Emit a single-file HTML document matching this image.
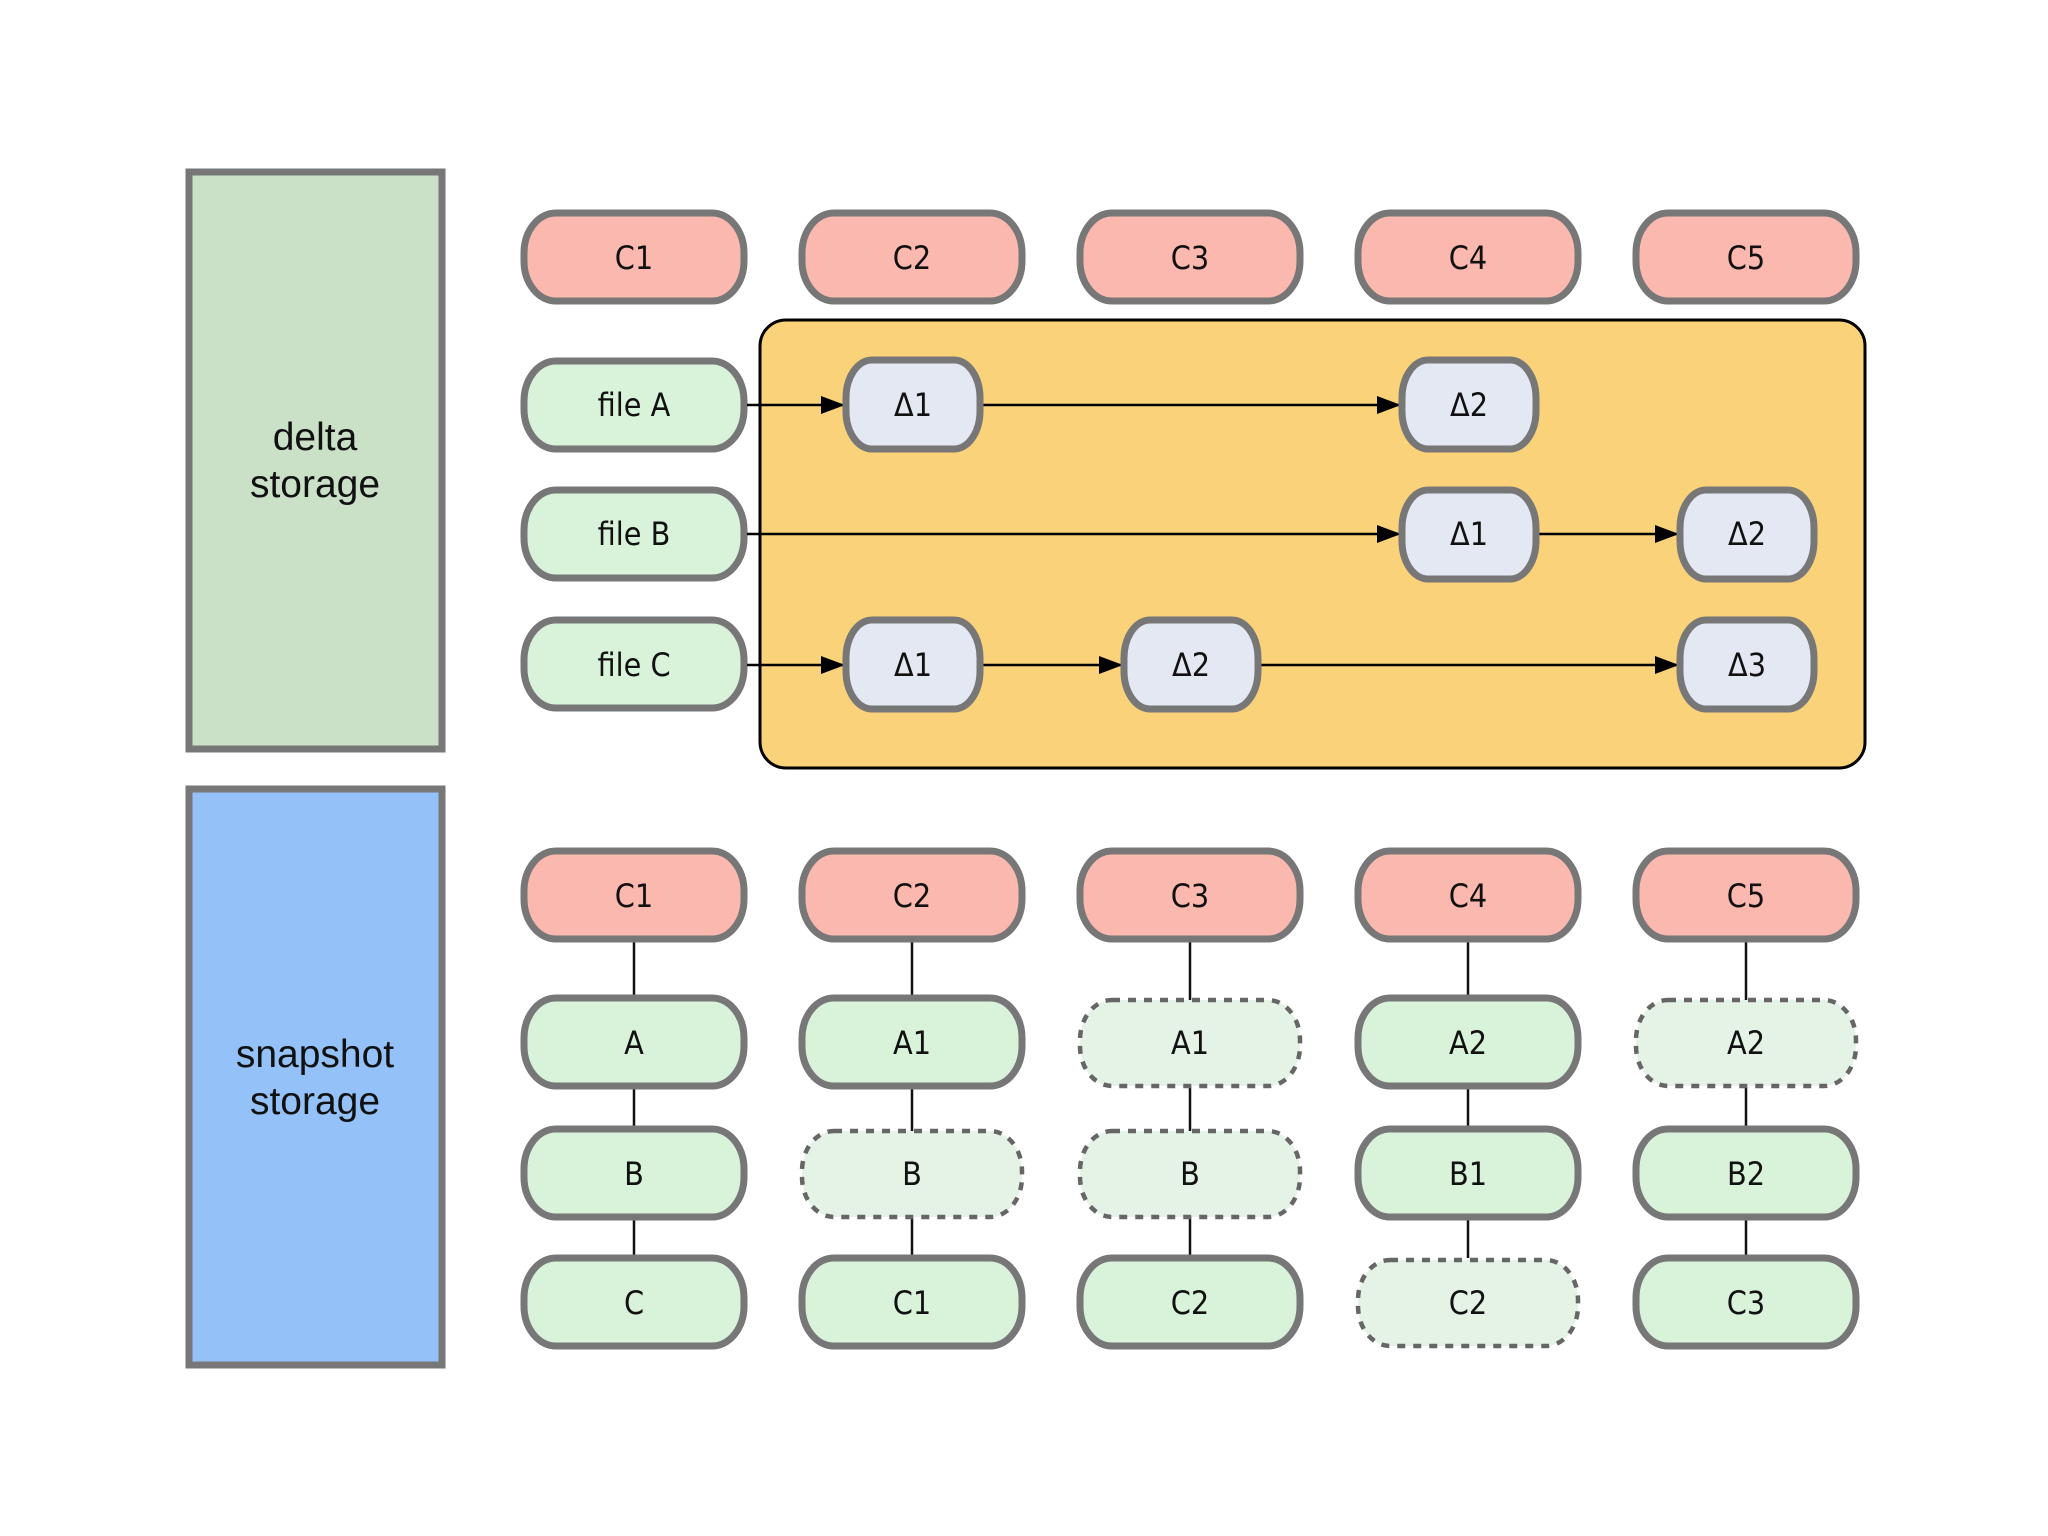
<!DOCTYPE html>
<html><head><meta charset="utf-8"><style>html,body{margin:0;padding:0;background:#fff}svg{display:block}</style></head>
<body>
<svg width="2048" height="1536" viewBox="0 0 2048 1536" xmlns="http://www.w3.org/2000/svg" font-family="'DejaVu Sans Condensed','Liberation Sans',sans-serif">
<defs>
<marker id="a2" markerWidth="24" markerHeight="18" refX="24" refY="9" orient="auto" markerUnits="userSpaceOnUse"><path d="M0,0 L24,9 L0,18 z" fill="#000"/></marker>
</defs>
<rect width="2048" height="1536" fill="#fff"/>
<rect x="189" y="172" width="253" height="577" fill="#cae1c8" stroke="#777" stroke-width="7"/>
<text x="315" y="450" font-family="'Liberation Sans',sans-serif" font-size="39" text-anchor="middle" fill="#111">delta</text>
<text x="315" y="497" font-family="'Liberation Sans',sans-serif" font-size="39" text-anchor="middle" fill="#111">storage</text>
<rect x="189" y="789" width="253" height="576" fill="#94c2f8" stroke="#777" stroke-width="7"/>
<text x="315" y="1067" font-family="'Liberation Sans',sans-serif" font-size="39" text-anchor="middle" fill="#111">snapshot</text>
<text x="315" y="1114" font-family="'Liberation Sans',sans-serif" font-size="39" text-anchor="middle" fill="#111">storage</text>
<rect x="760" y="320" width="1105" height="448" rx="26" fill="#fad27a" stroke="#000" stroke-width="3"/>
<g font-size="32" text-anchor="middle" fill="#111" stroke-width="7" stroke="#777">
<g>
<rect x="524" y="213" width="220" height="88" rx="32" ry="40" fill="#fbb8ae"/>
<rect x="802" y="213" width="220" height="88" rx="32" ry="40" fill="#fbb8ae"/>
<rect x="1080" y="213" width="220" height="88" rx="32" ry="40" fill="#fbb8ae"/>
<rect x="1358" y="213" width="220" height="88" rx="32" ry="40" fill="#fbb8ae"/>
<rect x="1636" y="213" width="220" height="88" rx="32" ry="40" fill="#fbb8ae"/>
<rect x="524" y="361" width="220" height="88" rx="32" ry="40" fill="#d9f2da"/>
<rect x="524" y="490" width="220" height="88" rx="32" ry="40" fill="#d9f2da"/>
<rect x="524" y="620" width="220" height="88" rx="32" ry="40" fill="#d9f2da"/>
</g>
<g stroke="#000" stroke-width="2.5" fill="none">
<line x1="747" y1="405" x2="845" y2="405" marker-end="url(#a2)"/>
<line x1="980" y1="405" x2="1401" y2="405" marker-end="url(#a2)"/>
<line x1="747" y1="534" x2="1401" y2="534" marker-end="url(#a2)"/>
<line x1="1536" y1="534" x2="1679" y2="534" marker-end="url(#a2)"/>
<line x1="747" y1="665" x2="845" y2="665" marker-end="url(#a2)"/>
<line x1="980" y1="665" x2="1123" y2="665" marker-end="url(#a2)"/>
<line x1="1258" y1="665" x2="1679" y2="665" marker-end="url(#a2)"/>
</g>
<g fill="#e3e8f3">
<rect x="846" y="360" width="134" height="89" rx="26" ry="38"/>
<rect x="1402" y="360" width="134" height="89" rx="26" ry="38"/>
<rect x="1402" y="490" width="134" height="89" rx="26" ry="38"/>
<rect x="1680" y="490" width="134" height="89" rx="26" ry="38"/>
<rect x="846" y="620" width="134" height="89" rx="26" ry="38"/>
<rect x="1124" y="620" width="134" height="89" rx="26" ry="38"/>
<rect x="1680" y="620" width="134" height="89" rx="26" ry="38"/>
</g>
<g stroke="#111" stroke-width="2.5">
<line x1="634" y1="940" x2="634" y2="1258"/>
<line x1="912" y1="940" x2="912" y2="1258"/>
<line x1="1190" y1="940" x2="1190" y2="1258"/>
<line x1="1468" y1="940" x2="1468" y2="1258"/>
<line x1="1746" y1="940" x2="1746" y2="1258"/>
</g>
<g>
<rect x="524" y="851" width="220" height="88" rx="32" ry="40" fill="#fbb8ae"/>
<rect x="802" y="851" width="220" height="88" rx="32" ry="40" fill="#fbb8ae"/>
<rect x="1080" y="851" width="220" height="88" rx="32" ry="40" fill="#fbb8ae"/>
<rect x="1358" y="851" width="220" height="88" rx="32" ry="40" fill="#fbb8ae"/>
<rect x="1636" y="851" width="220" height="88" rx="32" ry="40" fill="#fbb8ae"/>
<rect x="524" y="998" width="220" height="88" rx="32" ry="40" fill="#d9f2da"/>
<rect x="802" y="998" width="220" height="88" rx="32" ry="40" fill="#d9f2da"/>
<rect x="1358" y="998" width="220" height="88" rx="32" ry="40" fill="#d9f2da"/>
<rect x="524" y="1129" width="220" height="88" rx="32" ry="40" fill="#d9f2da"/>
<rect x="1358" y="1129" width="220" height="88" rx="32" ry="40" fill="#d9f2da"/>
<rect x="1636" y="1129" width="220" height="88" rx="32" ry="40" fill="#d9f2da"/>
<rect x="524" y="1258" width="220" height="88" rx="32" ry="40" fill="#d9f2da"/>
<rect x="802" y="1258" width="220" height="88" rx="32" ry="40" fill="#d9f2da"/>
<rect x="1080" y="1258" width="220" height="88" rx="32" ry="40" fill="#d9f2da"/>
<rect x="1636" y="1258" width="220" height="88" rx="32" ry="40" fill="#d9f2da"/>
</g>
<g fill="#e4f3e6" stroke-width="4.5" stroke-dasharray="8 8" stroke="#666">
<rect x="1080" y="1000" width="220" height="86" rx="32" ry="40"/>
<rect x="1636" y="1000" width="220" height="86" rx="32" ry="40"/>
<rect x="802" y="1131" width="220" height="86" rx="32" ry="40"/>
<rect x="1080" y="1131" width="220" height="86" rx="32" ry="40"/>
<rect x="1358" y="1260" width="220" height="86" rx="32" ry="40"/>
</g>
<g stroke="none" fill="#111">
<text x="634" y="269">C1</text><text x="912" y="269">C2</text><text x="1190" y="269">C3</text><text x="1468" y="269">C4</text><text x="1746" y="269">C5</text>
<text x="634" y="416">file A</text><text x="634" y="545">file B</text><text x="634" y="676">file C</text>
<text x="913" y="416">Δ1</text><text x="1469" y="416">Δ2</text>
<text x="1469" y="545">Δ1</text><text x="1747" y="545">Δ2</text>
<text x="913" y="676">Δ1</text><text x="1191" y="676">Δ2</text><text x="1747" y="676">Δ3</text>
<text x="634" y="907">C1</text><text x="912" y="907">C2</text><text x="1190" y="907">C3</text><text x="1468" y="907">C4</text><text x="1746" y="907">C5</text>
<text x="634" y="1054">A</text><text x="912" y="1054">A1</text><text x="1190" y="1054">A1</text><text x="1468" y="1054">A2</text><text x="1746" y="1054">A2</text>
<text x="634" y="1185">B</text><text x="912" y="1185">B</text><text x="1190" y="1185">B</text><text x="1468" y="1185">B1</text><text x="1746" y="1185">B2</text>
<text x="634" y="1314">C</text><text x="912" y="1314">C1</text><text x="1190" y="1314">C2</text><text x="1468" y="1314">C2</text><text x="1746" y="1314">C3</text>
</g>
</g>
</svg>
</body></html>
